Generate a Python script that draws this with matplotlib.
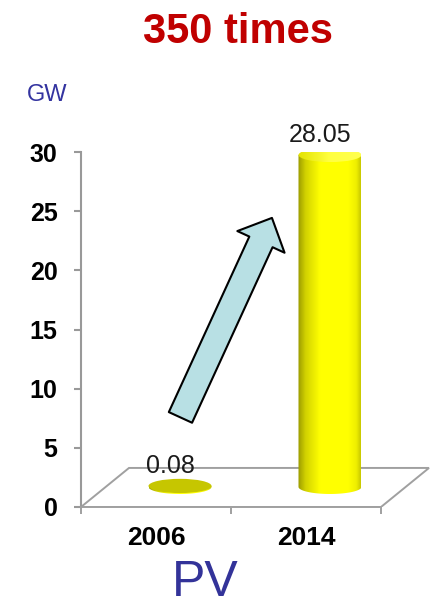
import numpy as np
import matplotlib
matplotlib.use('Agg')
import matplotlib.pyplot as plt
from matplotlib.path import Path
from matplotlib.patches import Polygon, Ellipse, PathPatch, FancyArrowPatch
from matplotlib.colors import LinearSegmentedColormap

# installed PV capacity
years = ['2006', '2014']
capacity_gw = [0.08, 28.05]
value_labels = ['0.08', '28.05']
y_ticks = [0, 5, 10, 15, 20, 25, 30]

plt.rcParams['font.family'] = ['Liberation Sans', 'DejaVu Sans']

# 3D look: floor depth shift and where the cylinders stand
depth_dx, depth_dy = 0.32, 3.3
base = 1.7
cyl_w, cyl_eh = 0.42, 1.2
top_colors = ['#c6c600', None]

body_cmap = LinearSegmentedColormap.from_list('body', [
    (0.0, '#9a9a00'), (0.12, '#d2d200'), (0.35, '#ffff00'),
    (0.8, '#ffff00'), (0.93, '#eeee00'), (1.0, '#c8c800')])
top_cmap = LinearSegmentedColormap.from_list('top', ['#e2e200', '#ffff40', '#ffff50'])

fig = plt.figure(figsize=(4.31, 6.01), dpi=100)
ax = fig.add_axes([81/431, 94/601, 350/431, 355/601])
n = len(years)

# floor
floor = Polygon([(0, 0), (n, 0), (n + depth_dx, depth_dy), (depth_dx, depth_dy)],
                closed=True, facecolor='white', edgecolor='#a0a0a0', lw=1.4, zorder=1)
ax.add_patch(floor)


def cylinder(ax, xc, b, h, top_color):
    x0, x1 = xc - cyl_w/2, xc + cyl_w/2
    top = b + h
    t = np.linspace(np.pi, 2*np.pi, 80)
    verts = [(x0, top)] + list(zip(xc + cyl_w/2*np.cos(t), b + cyl_eh/2*np.sin(t))) + [(x1, top), (x0, top)]
    body = PathPatch(Path(verts), facecolor='none', edgecolor='none')
    ax.add_patch(body)
    grad = np.linspace(0, 1, 256).reshape(1, -1)
    im = ax.imshow(grad, cmap=body_cmap, extent=[x0, x1, b - cyl_eh/2, top],
                   aspect='auto', origin='lower', zorder=3, interpolation='bilinear')
    im.set_clip_path(body)
    cap = Ellipse((xc, top), cyl_w, cyl_eh, facecolor=top_color or 'none', edgecolor='none', zorder=4)
    ax.add_patch(cap)
    if top_color is None:
        im2 = ax.imshow(grad, cmap=top_cmap, extent=[x0, x1, top - cyl_eh/2, top + cyl_eh/2],
                        aspect='auto', origin='lower', zorder=4, interpolation='bilinear')
        im2.set_clip_path(cap)


for i, (v, lab) in enumerate(zip(capacity_gw, value_labels)):
    xc = i + 0.5 + depth_dx/2
    cylinder(ax, xc, base, v, top_colors[i])
    ax.text(xc - 0.067, base + v + 1.7, lab, ha='center', va='center',
            fontsize=18, color='#1a1a1a', zorder=6)

# growth arrow
arrow = FancyArrowPatch((0.663, 7.57), (1.273, 24.43),
                        arrowstyle='simple,head_width=3.74,head_length=1.9,tail_width=1.84',
                        mutation_scale=10, facecolor='#b8e0e4', edgecolor='black',
                        lw=1.5, shrinkA=0, shrinkB=0, zorder=5)
ax.add_patch(arrow)

ax.set_xlim(0, 350/150)
ax.set_ylim(0, 30)
for s in ['top', 'right']:
    ax.spines[s].set_visible(False)
ax.spines['left'].set_color('#999999')
ax.spines['left'].set_linewidth(1.5)
ax.spines['bottom'].set_color('#a0a0a0')
ax.spines['bottom'].set_linewidth(1.4)
ax.spines['bottom'].set_bounds(0, n)

ax.set_yticks(y_ticks)
ax.set_yticklabels([str(t) for t in y_ticks], fontsize=18, fontweight='bold')
ax.tick_params(axis='y', direction='out', length=5, width=1.5, color='#999999', pad=12)

ax.set_xticks(range(n + 1))
ax.set_xticklabels([''] * (n + 1))
ax.set_xticks([i + 0.5 for i in range(n)], minor=True)
ax.set_xticklabels(years, minor=True, fontsize=19, fontweight='bold')
ax.tick_params(axis='x', which='major', direction='out', length=5, width=1.4, color='#a0a0a0')
ax.tick_params(axis='x', which='minor', length=0, pad=14)
ax.patch.set_alpha(0)

fig.text(238/431, 1 - 43/601, '350 times', ha='center', va='baseline',
         fontsize=30, fontweight='bold', color='#c00000')
fig.text(27/431, 1 - 101/601, 'GW', ha='left', va='baseline', fontsize=17, color='#3434a0')
fig.text(205/431, 5/601, 'PV', ha='center', va='baseline', fontsize=36, color='#333399')

fig.savefig('out.png', dpi=100)
